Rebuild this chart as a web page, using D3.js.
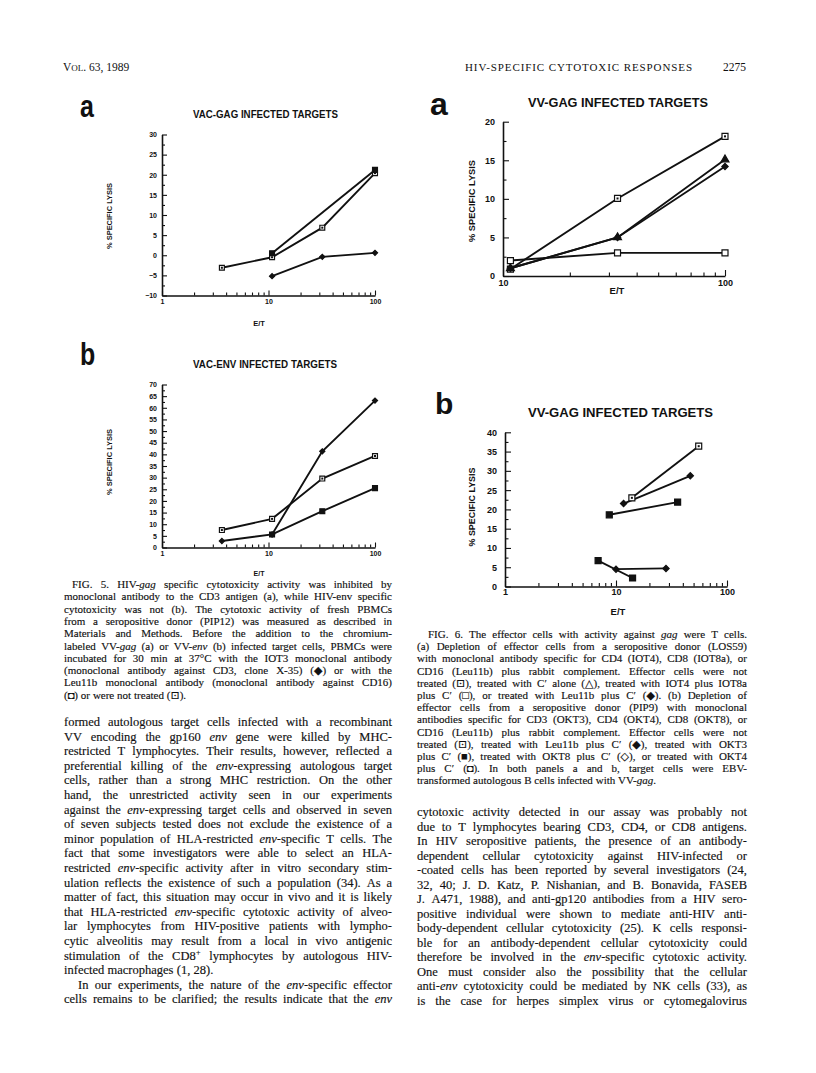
<!DOCTYPE html>
<html>
<head>
<meta charset="utf-8">
<script src="https://cdn.jsdelivr.net/npm/d3@7"></script>
<style>
  body { margin: 0; background: #fff; }
  svg { display: block; }
</style>
</head>
<body>
<svg id="page" width="816" height="1073"></svg>
<script>
// ---- data: [E/T ratio, % specific lysis] ----
// Fig 5a, VAC-GAG infected targets
const fig5aNotTreated = [[3.65, -3.1], [10.8, -0.5], [32, 6.85], [100, 20.4]];
const fig5aLeu11b = [[10.8, 0.5], [100, 21.2]];
const fig5aIot3 = [[10.8, -5.2], [32, -0.4], [100, 0.6]];
// Fig 5b, VAC-ENV infected targets
const fig5bNotTreated = [[3.65, 7.5], [10.8, 12.3], [32, 29.6], [100, 39.3]];
const fig5bLeu11b = [[10.8, 5.6], [32, 15.6], [100, 25.5]];
const fig5bIot3 = [[3.65, 2.8], [10.8, 5.6], [32, 41.3], [100, 63.1]];
// Fig 6a, VV-GAG infected targets
const fig6aNotTreated = [[10.8, 0.9], [32.8, 10.05], [100, 18.1]];
const fig6aCAlone = [[10.8, 1.0], [32.8, 5.0], [100, 15.1]];
const fig6aIot4Iot8 = [[10.8, 2.0], [32.8, 3.0], [100, 3.0]];
const fig6aLeu11b = [[10.8, 1.0], [32.8, 5.0], [100, 14.2]];
// Fig 6b, VV-GAG infected targets
const fig6bNotTreated = [[13.9, 23.0], [55.6, 36.4]];
const fig6bLeu11b = [[11.7, 21.5], [46.7, 28.7]];
const fig6bOkt4 = [[8.7, 18.6], [35.9, 21.9]];
const fig6bOkt3 = [[6.9, 6.7], [14.1, 2.2]];
const fig6bOkt8 = [[10, 4.5], [28.2, 4.7]];

// tick labels
const fig5aYTicks = [-10, -5, 0, 5, 10, 15, 20, 25, 30];
const fig5bYTicks = [0, 5, 10, 15, 20, 25, 30, 35, 40, 45, 50, 55, 60, 65, 70];
const fig6aYTicks = [0, 5, 10, 15, 20];
const fig6bYTicks = [0, 5, 10, 15, 20, 25, 30, 35, 40];
const xTicksWide = [1, 10, 100];
const xTicksNarrow = [10, 100];

// ---- page text ----
const fig5Caption = [
  "FIG. 5. HIV-_gag_ specific cytotoxicity activity was inhibited by",
  "monoclonal antibody to the CD3 antigen (a), while HIV-env specific",
  "cytotoxicity was not (b). The cytotoxic activity of fresh PBMCs",
  "from a seropositive donor (PIP12) was measured as described in",
  "Materials and Methods. Before the addition to the chromium-",
  "labeled VV-_gag_ (a) or VV-_env_ (b) infected target cells, PBMCs were",
  "incubated for 30 min at 37°C with the IOT3 monoclonal antibody",
  "(monoclonal antibody against CD3, clone X-35) (◆) or with the",
  "Leu11b monoclonal antibody (monoclonal antibody against CD16)",
  "(◘) or were not treated (⊡)."
];
const leftBody = [
  "formed autologous target cells infected with a recombinant",
  "VV encoding the gp160 _env_ gene were killed by MHC-",
  "restricted T lymphocytes. Their results, however, reflected a",
  "preferential killing of the _env_-expressing autologous target",
  "cells, rather than a strong MHC restriction. On the other",
  "hand, the unrestricted activity seen in our experiments",
  "against the _env_-expressing target cells and observed in seven",
  "of seven subjects tested does not exclude the existence of a",
  "minor population of HLA-restricted _env_-specific T cells. The",
  "fact that some investigators were able to select an HLA-",
  "restricted _env_-specific activity after in vitro secondary stim-",
  "ulation reflects the existence of such a population (34). As a",
  "matter of fact, this situation may occur in vivo and it is likely",
  "that HLA-restricted _env_-specific cytotoxic activity of alveo-",
  "lar lymphocytes from HIV-positive patients with lympho-",
  "cytic alveolitis may result from a local in vivo antigenic",
  "stimulation of the CD8^+^ lymphocytes by autologous HIV-",
  "infected macrophages (1, 28).",
  "In our experiments, the nature of the _env_-specific effector",
  "cells remains to be clarified; the results indicate that the _env_"
];
const fig6Caption = [
  "FIG. 6. The effector cells with activity against _gag_ were T cells.",
  "(a) Depletion of effector cells from a seropositive donor (LOS59)",
  "with monoclonal antibody specific for CD4 (IOT4), CD8 (IOT8a), or",
  "CD16 (Leu11b) plus rabbit complement. Effector cells were not",
  "treated (⊡), treated with C′ alone (△), treated with IOT4 plus IOT8a",
  "plus C′ (□), or treated with Leu11b plus C′ (◆). (b) Depletion of",
  "effector cells from a seropositive donor (PIP9) with monoclonal",
  "antibodies specific for CD3 (OKT3), CD4 (OKT4), CD8 (OKT8), or",
  "CD16 (Leu11b) plus rabbit complement. Effector cells were not",
  "treated (⊡), treated with Leu11b plus C′ (◆), treated with OKT3",
  "plus C′ (■), treated with OKT8 plus C′ (◇), or treated with OKT4",
  "plus C′ (◘). In both panels a and b, target cells were EBV-",
  "transformed autologous B cells infected with VV-_gag_."
];
const rightBody = [
  "cytotoxic activity detected in our assay was probably not",
  "due to T lymphocytes bearing CD3, CD4, or CD8 antigens.",
  "In HIV seropositive patients, the presence of an antibody-",
  "dependent cellular cytotoxicity against HIV-infected or",
  "-coated cells has been reported by several investigators (24,",
  "32, 40; J. D. Katz, P. Nishanian, and B. Bonavida, FASEB",
  "J. A471, 1988), and anti-gp120 antibodies from a HIV sero-",
  "positive individual were shown to mediate anti-HIV anti-",
  "body-dependent cellular cytotoxicity (25). K cells responsi-",
  "ble for an antibody-dependent cellular cytotoxicity could",
  "therefore be involved in the _env_-specific cytotoxic activity.",
  "One must consider also the possibility that the cellular",
  "anti-_env_ cytotoxicity could be mediated by NK cells (33), as",
  "is the case for herpes simplex virus or cytomegalovirus"
];

const svg = d3.select("#page");
const ink = "#111";
const serif = "'Liberation Serif', 'DejaVu Serif', serif";
const sans = "'Liberation Sans', Arial, sans-serif";

// one line of justified text; words placed one by one so the gaps stretch
function textLine(g, x, y, width, str, size, justify) {
  let italic = false, sup = false;
  const words = str.split(" ");
  const nodes = words.map(w => {
    const t = g.append("text")
      .attr("y", y)
      .style("font-family", serif)
      .style("font-size", size + "px")
      .attr("fill", ink)
      .attr("stroke", ink).attr("stroke-width", 0.15);
    w.split(/([_^])/).forEach(part => {
      if (part === "_") { italic = !italic; return; }
      if (part === "^") { sup = !sup; return; }
      if (part === "") return;
      const ts = t.append("tspan").text(part);
      if (italic) ts.style("font-style", "italic");
      if (sup) ts.attr("dy", -size * 0.4).style("font-size", (size * 0.7) + "px");
    });
    return t;
  });
  const widths = nodes.map(t => t.node().getComputedTextLength());
  let gap = size * 0.26;
  if (justify && words.length > 1) gap = (width - d3.sum(widths)) / (words.length - 1);
  let cx = x;
  nodes.forEach((t, i) => { t.attr("x", cx); cx += widths[i] + gap; });
}

function textBlock(lines, x, y0, width, step, size, opts) {
  const g = svg.append("g");
  lines.forEach((line, i) => {
    const indent = (opts.indent || {})[i] || 0;
    const justify = !(opts.ragged || []).includes(i);
    textLine(g, x + indent, y0 + i * step, width - indent, line, size, justify);
  });
}

// ---- header ----
const head = svg.append("g").attr("fill", ink).style("font-family", serif);
head.append("text").attr("x", 63).attr("y", 71).style("font-size", "11.5px")
  .call(t => {
    t.append("tspan").text("V");
    t.append("tspan").style("font-size", "9px").text("OL");
    t.append("tspan").text(". 63, 1989");
  });
head.append("text").attr("x", 465).attr("y", 71).style("font-size", "11px")
  .attr("textLength", 227).attr("lengthAdjust", "spacing")
  .text("HIV-SPECIFIC CYTOTOXIC RESPONSES");
head.append("text").attr("x", 723).attr("y", 71).style("font-size", "11.5px").text("2275");

// ---- chart panels ----
const markers = {
  dotSquare: { type: d3.symbolSquare, fill: "#fff", dot: true, k: 1 },
  openSquare: { type: d3.symbolSquare, fill: "#fff", k: 1 },
  square: { type: d3.symbolSquare, fill: ink, k: 1 },
  diamond: { type: d3.symbolSquare, fill: ink, k: 0.55, rot: 45 },
  triangle: { type: d3.symbolTriangle, fill: ink, k: 0.75 }
};

function drawPanel(p) {
  const g = svg.append("g");
  const x = d3.scaleLog().domain(p.xDomain).range([p.left, p.right]);
  const y = d3.scaleLinear().domain(p.yDomain).range([p.bottom, p.top]);

  // panel letter
  g.append("text")
    .attr("transform", `translate(${p.letterX},${p.letterY}) scale(${p.letterScale},1)`)
    .style("font-family", sans).style("font-weight", "bold")
    .style("font-size", p.letterSize + "px").attr("fill", ink)
    .text(p.letter);

  // title
  g.append("text")
    .attr("x", p.titleX).attr("y", p.titleY)
    .attr("textLength", p.titleW).attr("lengthAdjust", "spacingAndGlyphs")
    .attr("text-anchor", "middle")
    .style("font-family", sans).style("font-weight", "bold")
    .style("font-size", p.titleSize + "px").attr("fill", ink)
    .text(p.title);

  // minor ticks first, then major axes on top
  const yMinor = d3.range(p.yDomain[0] + p.yStep / 2, p.yDomain[1], p.yStep);
  g.append("g").attr("transform", `translate(${p.left},0)`)
    .call(d3.axisLeft(y).tickValues(yMinor).tickSize(-p.minorLen).tickFormat(""))
    .call(a => a.select(".domain").remove());

  const xMinor = [];
  for (let dec = p.xDomain[0]; dec < p.xDomain[1]; dec *= 10) {
    for (let k = 2; k < 10; k++) xMinor.push(dec * k);
  }
  g.append("g").attr("transform", `translate(0,${p.bottom})`)
    .call(d3.axisBottom(x).tickValues(xMinor).tickSize(-p.minorLen).tickFormat(""))
    .call(a => a.select(".domain").remove());

  const yAx = g.append("g").attr("transform", `translate(${p.left},0)`)
    .call(d3.axisLeft(y).tickValues(p.yTicks).tickSizeInner(-p.majorLen)
      .tickSizeOuter(0).tickPadding(p.yPad).tickFormat(d3.format("d")));
  const xAx = g.append("g").attr("transform", `translate(0,${p.bottom})`)
    .call(d3.axisBottom(x).tickValues(p.xTicks).tickSizeInner(-p.majorLen)
      .tickSizeOuter(0).tickPadding(p.xPad).tickFormat(d3.format("d")));

  g.selectAll(".domain").attr("stroke", ink).attr("stroke-width", 1.6);
  g.selectAll(".tick line").attr("stroke", ink).attr("stroke-width", 1.1);
  [yAx, xAx].forEach(a => a.selectAll("text")
    .style("font-family", sans).style("font-weight", "bold")
    .style("font-size", p.tickSize + "px").attr("fill", ink));

  // axis titles
  g.append("text")
    .attr("transform", `translate(${p.yLabelX},${p.yLabelY}) rotate(-90)`)
    .attr("text-anchor", "middle")
    .attr("textLength", p.yLabelW).attr("lengthAdjust", "spacingAndGlyphs")
    .style("font-family", sans).style("font-weight", "bold")
    .style("font-size", p.labelSize + "px").attr("fill", ink)
    .text("% SPECIFIC LYSIS");
  g.append("text")
    .attr("x", p.xLabelX).attr("y", p.xLabelY).attr("text-anchor", "middle")
    .style("font-family", sans).style("font-weight", "bold")
    .style("font-size", p.labelSize + "px").attr("fill", ink)
    .text("E/T");

  // series
  const line = d3.line().x(d => x(d[0])).y(d => y(d[1]));
  p.series.forEach(s => {
    g.append("path").datum(s.data)
      .attr("d", line).attr("fill", "none")
      .attr("stroke", ink).attr("stroke-width", 1.9);
  });
  p.series.forEach(s => {
    const m = markers[s.marker];
    const pts = g.selectAll(null).data(s.data).enter().append("g")
      .attr("transform", d => `translate(${x(d[0])},${y(d[1])}) rotate(${m.rot || 0})`);
    pts.append("path")
      .attr("d", d3.symbol().type(m.type).size(p.markerArea * m.k))
      .attr("fill", m.fill).attr("stroke", ink).attr("stroke-width", 1.2);
    if (m.dot) pts.append("rect").attr("x", -1).attr("y", -1)
      .attr("width", 2).attr("height", 2).attr("fill", ink);
  });
}

const fig5Style = {
  xDomain: [1, 100], xTicks: xTicksWide, yStep: 5,
  left: 162, right: 375, majorLen: 5, minorLen: 3,
  tickSize: 7, labelSize: 7.5, yPad: 5, xPad: 4,
  letterSize: 32, letterScale: 0.78, titleSize: 10, markerArea: 24,
  yLabelX: 112, yLabelW: 66, xLabelX: 259
};

drawPanel(Object.assign({}, fig5Style, {
  top: 134.5, bottom: 295.5, yDomain: [-10, 30], yTicks: fig5aYTicks,
  letter: "a", letterX: 80, letterY: 117,
  title: "VAC-GAG INFECTED TARGETS", titleX: 265.5, titleY: 118, titleW: 145,
  yLabelY: 216, xLabelY: 326,
  series: [
    { data: fig5aNotTreated, marker: "dotSquare" },
    { data: fig5aLeu11b, marker: "square" },
    { data: fig5aIot3, marker: "diamond" }
  ]
}));

drawPanel(Object.assign({}, fig5Style, {
  top: 384.5, bottom: 547.5, yDomain: [0, 70], yTicks: fig5bYTicks,
  letter: "b", letterX: 80, letterY: 365,
  title: "VAC-ENV INFECTED TARGETS", titleX: 265, titleY: 368, titleW: 144,
  yLabelY: 462, xLabelY: 575.5, labelSize: 7,
  series: [
    { data: fig5bNotTreated, marker: "dotSquare" },
    { data: fig5bLeu11b, marker: "square" },
    { data: fig5bIot3, marker: "diamond" }
  ]
}));

const fig6Style = {
  yStep: 5, majorLen: 6, minorLen: 3.5,
  tickSize: 9, labelSize: 9.5, yPad: 8, xPad: 4,
  letterSize: 32, letterScale: 1, titleSize: 13, markerArea: 36,
  yLabelX: 475, yLabelW: 82
};

drawPanel(Object.assign({}, fig6Style, {
  xDomain: [10, 100], xTicks: xTicksNarrow,
  left: 503, right: 725, top: 121.7, bottom: 276,
  yDomain: [0, 20], yTicks: fig6aYTicks,
  letter: "a", letterX: 430, letterY: 115,
  title: "VV-GAG INFECTED TARGETS", titleX: 618, titleY: 107, titleW: 180,
  yLabelY: 201, xLabelX: 617, xLabelY: 294,
  series: [
    { data: fig6aNotTreated, marker: "dotSquare" },
    { data: fig6aCAlone, marker: "triangle" },
    { data: fig6aIot4Iot8, marker: "openSquare" },
    { data: fig6aLeu11b, marker: "diamond" }
  ]
}));

drawPanel(Object.assign({}, fig6Style, {
  xDomain: [1, 100], xTicks: xTicksWide,
  left: 505, right: 727, top: 432.3, bottom: 586.5,
  yDomain: [0, 40], yTicks: fig6bYTicks, xPad: 2,
  letter: "b", letterX: 435, letterY: 414, letterSize: 30,
  title: "VV-GAG INFECTED TARGETS", titleX: 620.5, titleY: 417, titleW: 185,
  yLabelY: 507, yLabelW: 79, xLabelX: 618, xLabelY: 615,
  series: [
    { data: fig6bNotTreated, marker: "dotSquare" },
    { data: fig6bLeu11b, marker: "diamond" },
    { data: fig6bOkt4, marker: "square" },
    { data: fig6bOkt3, marker: "square" },
    { data: fig6bOkt8, marker: "diamond" }
  ]
}));

// ---- captions and running text ----
textBlock(fig5Caption, 64, 588, 328, 12.3, 11, { indent: { 0: 8 }, ragged: [9] });
textBlock(leftBody, 64, 726, 328, 14.6, 12.5, { indent: { 18: 14 }, ragged: [17] });
textBlock(fig6Caption, 417, 638, 330, 12.2, 11, { indent: { 0: 11 }, ragged: [12] });
textBlock(rightBody, 417, 816, 330, 14.5, 12.5, {});
</script>
</body>
</html>
